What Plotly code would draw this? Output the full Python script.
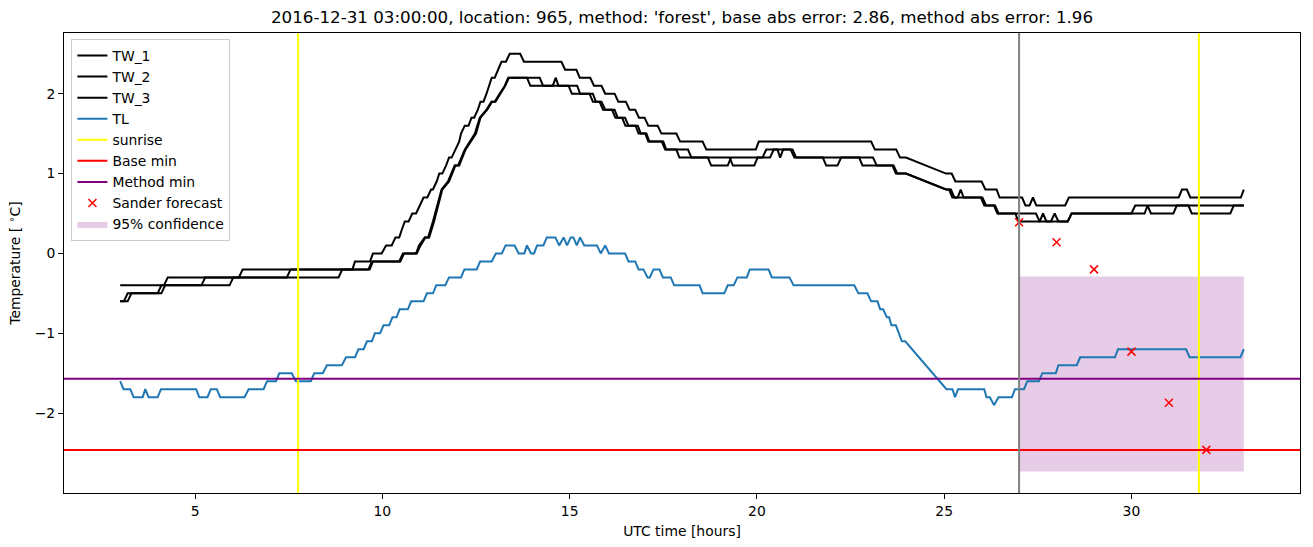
import plotly.graph_objects as go

# ---------------- data ----------------
tl_t = [3.0, 3.09, 3.27, 3.36, 3.6, 3.67, 3.76, 4.0, 4.09, 5.03, 5.11, 5.33, 5.42, 5.58, 5.67, 6.32, 6.43,
        6.83, 6.92, 7.16, 7.25, 7.58, 7.69, 8.09, 8.18, 8.41, 8.52, 8.92, 9.03, 9.27, 9.36, 9.5, 9.59, 9.72,
        9.8, 9.94, 10.03, 10.18, 10.27, 10.38, 10.46, 10.68, 10.77, 11.1, 11.19, 11.35, 11.44, 11.68, 11.78,
        12.1, 12.19, 12.52, 12.61, 12.92, 13.03, 13.19, 13.29, 13.53, 13.64, 13.79, 13.86, 13.97, 14.05,
        14.13, 14.3, 14.39, 14.62, 14.72, 14.84, 14.93, 15.03, 15.1, 15.19, 15.28, 15.39, 15.73, 15.83,
        15.95, 16.05, 16.48, 16.57, 16.75, 16.84, 16.97, 17.08, 17.14, 17.24, 17.4, 17.49, 17.7, 17.79,
        18.47, 18.55, 19.13, 19.22, 19.38, 19.48, 19.73, 19.81, 20.31, 20.4, 20.87, 20.98, 22.6, 22.71,
        22.95, 23.05, 23.22, 23.29, 23.37, 23.47, 23.53, 23.59, 23.71, 23.87, 23.96, 25.06, 25.22, 25.29,
        25.37, 26.07, 26.13, 26.22, 26.33, 26.45, 26.81, 26.89, 27.13, 27.22, 27.53, 27.62, 27.98, 28.05,
        28.54, 28.63, 29.56, 29.64, 31.46, 31.55, 32.91, 33.0]
tl_v = [-1.6, -1.7, -1.7, -1.8, -1.8, -1.7, -1.8, -1.8, -1.7, -1.7, -1.8, -1.8, -1.7, -1.7, -1.8, -1.8, -1.7,
        -1.7, -1.6, -1.6, -1.5, -1.5, -1.6, -1.6, -1.5, -1.5, -1.4, -1.4, -1.3, -1.3, -1.2, -1.2, -1.1, -1.1,
        -1.0, -1.0, -0.9, -0.9, -0.8, -0.8, -0.7, -0.7, -0.6, -0.6, -0.5, -0.5, -0.4, -0.4, -0.3,
        -0.3, -0.2, -0.2, -0.1, -0.1, 0.0, 0.0, 0.1, 0.1, 0.0, 0.0, 0.1, 0.0, 0.0,
        0.1, 0.1, 0.2, 0.2, 0.1, 0.2, 0.1, 0.2, 0.2, 0.1, 0.2, 0.1, 0.1, 0.0,
        0.1, 0.0, 0.0, -0.1, -0.1, -0.2, -0.2, -0.3, -0.3, -0.2, -0.2, -0.3, -0.3, -0.4,
        -0.4, -0.5, -0.5, -0.4, -0.4, -0.3, -0.3, -0.2, -0.2, -0.3, -0.3, -0.4, -0.4, -0.5,
        -0.5, -0.6, -0.6, -0.7, -0.7, -0.8, -0.8, -0.9, -0.9, -1.1, -1.1, -1.7, -1.7, -1.8,
        -1.7, -1.7, -1.8, -1.8, -1.9, -1.8, -1.8, -1.7, -1.7, -1.6, -1.6, -1.5, -1.5, -1.4,
        -1.4, -1.3, -1.3, -1.2, -1.2, -1.3, -1.3, -1.2]

tw1_t = [3.0, 4.17, 4.27, 6.17, 6.27, 9.2, 9.27, 9.67, 9.75, 9.98, 10.1, 10.25, 10.35, 10.45, 10.52, 10.6,
         10.7, 10.8, 10.9, 11.0, 11.1, 11.2, 11.3, 11.35, 11.45, 11.52, 11.6, 11.7, 11.78, 11.85, 11.95,
         12.05, 12.1, 12.2, 12.3, 12.38, 12.45, 12.55, 12.62, 12.7, 12.78, 12.85, 12.92, 13.0, 13.1, 13.18,
         13.3, 13.4, 13.68, 13.78, 14.78, 14.88, 15.18, 15.27, 15.55, 15.65, 15.85, 15.95, 16.2, 16.3, 16.5,
         16.6, 16.75, 16.85, 17.0, 17.1, 17.35, 17.45, 17.85, 17.95, 18.55, 18.65, 19.97, 20.05, 23.05,
         23.15, 23.72, 23.82, 23.98, 25.05, 25.2, 25.3, 26.0, 26.1, 26.4, 26.48, 27.08, 27.17, 27.28,
         27.37, 27.46, 28.23, 28.33, 31.26, 31.35, 31.48, 31.57, 32.92, 33.0]
tw1_v = [-0.4, -0.4, -0.3, -0.3, -0.2, -0.2, -0.1, -0.1, 0.0, 0.0, 0.1, 0.1, 0.2, 0.2, 0.3, 0.4,
         0.4, 0.5, 0.5, 0.6, 0.7, 0.7, 0.8, 0.8, 0.9, 1.0, 1.0, 1.1, 1.2, 1.2, 1.3,
         1.4, 1.5, 1.6, 1.6, 1.7, 1.7, 1.8, 1.9, 1.9, 2.0, 2.1, 2.2, 2.2, 2.3, 2.4,
         2.4, 2.5, 2.5, 2.4, 2.4, 2.3, 2.3, 2.2, 2.2, 2.1, 2.1, 2.0, 2.0, 1.9, 1.9,
         1.8, 1.8, 1.7, 1.7, 1.6, 1.6, 1.5, 1.5, 1.4, 1.4, 1.3, 1.3, 1.4, 1.4,
         1.3, 1.3, 1.2, 1.2, 1.0, 1.0, 0.9, 0.9, 0.8, 0.8, 0.7, 0.7, 0.6, 0.6,
         0.7, 0.6, 0.6, 0.7, 0.7, 0.8, 0.8, 0.7, 0.7, 0.8]

tw2_t = [3.0, 3.1, 3.2, 4.0, 4.1, 5.17, 5.27, 7.45, 7.55, 9.63, 9.72, 10.45, 10.55, 10.9, 10.98, 11.13,
         11.22, 11.35, 11.58, 11.75, 11.93, 12.02, 12.2, 12.33, 12.47, 12.6, 12.78, 12.91, 13.0, 13.13,
         13.27, 13.36, 13.86, 13.95, 14.55, 14.63, 14.7, 14.97, 15.06, 15.53, 15.62, 15.8, 15.89, 16.13,
         16.22, 16.4, 16.49, 16.76, 16.84, 17.02, 17.1, 17.46, 17.55, 17.85, 17.93, 19.27, 19.36, 19.93,
         20.02, 20.15, 20.25, 20.55, 20.62, 20.7, 20.9, 21.0, 21.76, 21.85, 22.15, 22.25, 23.1, 23.2,
         23.62, 23.71, 23.98, 25.05, 25.13, 25.22, 25.36, 25.44, 25.52, 25.98, 26.07, 26.33, 26.42, 26.9,
         26.98, 27.55, 27.64, 27.73, 28.3, 28.4, 30.0, 30.1, 33.0]
tw2_v = [-0.6, -0.6, -0.5, -0.5, -0.4, -0.4, -0.3, -0.3, -0.2, -0.2, -0.1, -0.1, 0.0, 0.0, 0.1, 0.2,
         0.2, 0.4, 0.8, 0.9, 1.1, 1.1, 1.3, 1.4, 1.5, 1.7, 1.8, 1.9, 1.9, 2.0,
         2.1, 2.2, 2.2, 2.1, 2.1, 2.2, 2.1, 2.1, 2.0, 2.0, 1.9, 1.9, 1.8, 1.8,
         1.7, 1.7, 1.6, 1.6, 1.5, 1.5, 1.4, 1.4, 1.3, 1.3, 1.2, 1.2, 1.1, 1.1,
         1.2, 1.2, 1.3, 1.3, 1.2, 1.3, 1.3, 1.2, 1.2, 1.1, 1.1, 1.2, 1.2, 1.1,
         1.1, 1.0, 1.0, 0.8, 0.8, 0.7, 0.7, 0.8, 0.7, 0.7, 0.6, 0.6, 0.5, 0.5,
         0.4, 0.4, 0.5, 0.4, 0.4, 0.5, 0.5, 0.6, 0.6]

tw3_t = [3.0, 3.2, 3.3, 4.1, 4.2, 5.92, 6.02, 8.83, 8.93, 9.66, 9.75, 10.48, 10.58, 10.92, 11.02, 11.15,
         11.25, 11.38, 11.6, 11.78, 11.95, 12.05, 12.22, 12.35, 12.5, 12.62, 12.8, 12.93, 13.02, 13.15,
         13.28, 13.38, 14.2, 14.29, 15.2, 15.28, 15.62, 15.7, 15.85, 15.95, 16.2, 16.28, 16.48, 16.57,
         16.82, 16.9, 17.05, 17.13, 17.5, 17.58, 18.16, 18.25, 18.69, 18.78, 19.22, 19.31, 20.35, 20.45,
         20.95, 21.05, 22.73, 22.82, 23.65, 23.75, 23.98, 25.05, 25.18, 25.27, 26.02, 26.12, 26.36, 26.45,
         27.45, 27.55, 27.85, 27.95, 28.05, 28.3, 28.4, 30.35, 30.43, 30.52, 31.12, 31.21, 31.52, 31.61,
         32.64, 32.73, 33.0]
tw3_v = [-0.6, -0.6, -0.5, -0.5, -0.4, -0.4, -0.3, -0.3, -0.2, -0.2, -0.1, -0.1, 0.0, 0.0, 0.1, 0.2,
         0.2, 0.4, 0.8, 0.9, 1.1, 1.1, 1.3, 1.4, 1.5, 1.7, 1.8, 1.9, 1.9, 2.0,
         2.1, 2.2, 2.2, 2.1, 2.1, 2.0, 2.0, 1.9, 1.9, 1.8, 1.8, 1.7, 1.7, 1.6,
         1.6, 1.5, 1.5, 1.4, 1.4, 1.3, 1.3, 1.2, 1.2, 1.1, 1.1, 1.2, 1.2, 1.3,
         1.3, 1.2, 1.2, 1.1, 1.1, 1.0, 1.0, 0.8, 0.8, 0.7, 0.7, 0.6, 0.6, 0.5,
         0.5, 0.4, 0.4, 0.5, 0.4, 0.4, 0.5, 0.5, 0.6, 0.5, 0.5, 0.6, 0.6, 0.5,
         0.5, 0.6, 0.6]

forecast_t = [27, 28, 29, 30, 31, 32]
forecast_v = [0.39, 0.14, -0.2, -1.23, -1.87, -2.46]

conf_t = [27, 33]
conf_lo = [-2.73, -2.73]
conf_hi = [-0.29, -0.29]

sunrise_t = [7.75, 31.8]
now_t = 27
base_min = -2.46
method_min = -1.57

title = "2016-12-31 03:00:00, location: 965, method: 'forest', base abs error: 2.86, method abs error: 1.96"

# ---------------- figure ----------------
FONT = "DejaVu Sans"
fig = go.Figure()

fig.add_trace(go.Scatter(x=conf_t, y=conf_lo, mode="lines", line=dict(width=0), showlegend=False,
                         hoverinfo="skip"))
fig.add_trace(go.Scatter(x=conf_t, y=conf_hi, mode="lines", line=dict(width=0), fill="tonexty",
                         fillcolor="rgba(128,0,128,0.2)", name="95% confidence", legendrank=9))

for i, (tt, vv) in enumerate([(tw1_t, tw1_v), (tw2_t, tw2_v), (tw3_t, tw3_v)]):
    fig.add_trace(go.Scatter(x=tt, y=vv, mode="lines", line=dict(color="black", width=2),
                             name=f"TW_{i+1}", legendrank=i + 1))

fig.add_trace(go.Scatter(x=tl_t, y=tl_v, mode="lines", line=dict(color="#1f77b4", width=2),
                         name="TL", legendrank=4))

fig.add_trace(go.Scatter(x=forecast_t, y=forecast_v, mode="markers", name="Sander forecast",
                         marker=dict(symbol="x-thin", size=8, color="red",
                                     line=dict(color="red", width=1.5)), legendrank=8))

shapes = []
for k, s in enumerate(sunrise_t):
    shapes.append(dict(type="line", xref="x", yref="paper", x0=s, x1=s, y0=0, y1=1,
                       line=dict(color="yellow", width=2), layer="above",
                       showlegend=(k == 0), name="sunrise", legendrank=5))
shapes.append(dict(type="line", xref="paper", yref="y", x0=0, x1=1, y0=base_min, y1=base_min,
                   line=dict(color="red", width=2), layer="above", showlegend=True,
                   name="Base min", legendrank=6))
shapes.append(dict(type="line", xref="paper", yref="y", x0=0, x1=1, y0=method_min, y1=method_min,
                   line=dict(color="purple", width=2), layer="above", showlegend=True,
                   name="Method min", legendrank=7))
shapes.append(dict(type="line", xref="x", yref="paper", x0=now_t, x1=now_t, y0=0, y1=1,
                   line=dict(color="gray", width=2), layer="above"))

axis_common = dict(showline=True, linecolor="black", linewidth=1, mirror=True, ticks="outside",
                   ticklen=5, tickwidth=1, tickcolor="black", showgrid=False, zeroline=False,
                   tickfont=dict(family=FONT, size=13.9, color="black"))

fig.update_layout(
    width=1313, height=547,
    margin=dict(l=64, r=13, t=33, b=54),
    plot_bgcolor="white", paper_bgcolor="white",
    font=dict(family=FONT, size=13.9, color="black"),
    title=dict(text=title, x=0.5, xref="paper", xanchor="center", y=1 - 17 / 547, yref="container",
               yanchor="middle", font=dict(family=FONT, size=16.7, color="black")),
    shapes=shapes,
    showlegend=True,
    legend=dict(x=0.006, y=0.987, xanchor="left", yanchor="top", bordercolor="#cccccc", borderwidth=1,
                bgcolor="rgba(255,255,255,0.8)", font=dict(family=FONT, size=13.9, color="black"),
                tracegroupgap=0, itemwidth=30, traceorder="normal"),
    xaxis=dict(range=[1.5, 34.5], tickvals=[5, 10, 15, 20, 25, 30],
               title=dict(text="UTC time [hours]", standoff=8, font=dict(family=FONT, size=13.9)),
               **axis_common),
    yaxis=dict(range=[-3.0, 2.76], tickvals=[-2, -1, 0, 1, 2],
               title=dict(text="Temperature [ <sup>∘</sup>C]", standoff=10, font=dict(family=FONT, size=13.9)),
               **axis_common),
)

fig.write_html("out.html")
